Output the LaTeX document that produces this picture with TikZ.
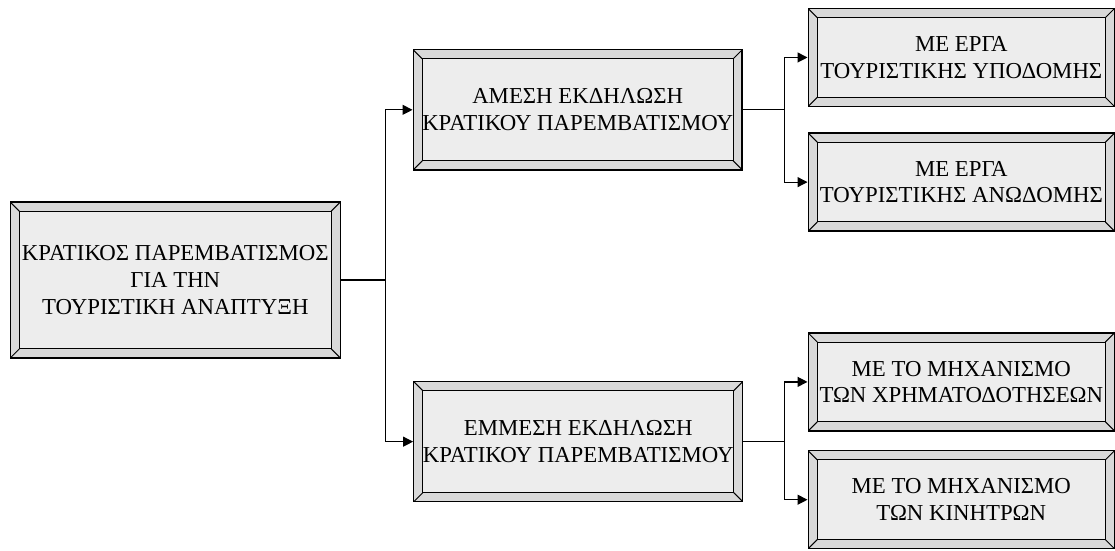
\documentclass[tikz,border=0pt]{standalone}
\usepackage{fontspec}
\setmainfont{Liberation Serif}
\usetikzlibrary{arrows.meta, positioning, calc}

\begin{document}
\begin{tikzpicture}[
    font=\fontsize{11.4pt}{13.3pt}\selectfont,
    frame/.style={draw, line width=0.7pt, fill=black!15, align=center, inner sep=0pt,
      path picture={
        \draw[line width=0.5pt, fill=black!7]
          ([shift={(0.16,0.16)}]path picture bounding box.south west) rectangle
          ([shift={(-0.16,-0.16)}]path picture bounding box.north east);
        \foreach \c/\dx/\dy in {south west/1/1, south east/-1/1, north west/1/-1, north east/-1/-1}
          \draw[line width=0.5pt] (path picture bounding box.\c) -- ++(0.16*\dx,0.16*\dy);
      }},
    root/.style={frame, minimum width=5.80cm, minimum height=2.74cm},
    mid/.style={frame, minimum width=5.78cm, minimum height=2.11cm},
    leaf/.style={frame, minimum width=5.38cm, minimum height=1.72cm},
    arr/.style={-{Triangle[length=5pt, width=5pt]}, line width=0.6pt},
    line/.style={line width=0.6pt}]
    \useasboundingbox (0,0) rectangle (19.59,9.68);
    \node[root] (st)  at (3.08,4.76)  {ΚΡΑΤΙΚΟΣ ΠΑΡΕΜΒΑΤΙΣΜΟΣ\\ΓΙΑ ΤΗΝ\\ΤΟΥΡΙΣΤΙΚΗ ΑΝΑΠΤΥΞΗ};
    \node[mid]  (ame) at (10.15,7.75) {ΑΜΕΣΗ ΕΚΔΗΛΩΣΗ\\ΚΡΑΤΙΚΟΥ ΠΑΡΕΜΒΑΤΙΣΜΟΥ};
    \node[mid]  (emm) at (10.16,1.92) {ΕΜΜΕΣΗ ΕΚΔΗΛΩΣΗ\\ΚΡΑΤΙΚΟΥ ΠΑΡΕΜΒΑΤΙΣΜΟΥ};
    \node[leaf] (ypo) at (16.89,8.67) {ΜΕ ΕΡΓΑ\\ΤΟΥΡΙΣΤΙΚΗΣ ΥΠΟΔΟΜΗΣ};
    \node[leaf] (ano) at (16.89,6.48) {ΜΕ ΕΡΓΑ\\ΤΟΥΡΙΣΤΙΚΗΣ ΑΝΩΔΟΜΗΣ};
    \node[leaf] (xrh) at (16.89,2.97) {ΜΕ ΤΟ ΜΗΧΑΝΙΣΜΟ\\ΤΩΝ ΧΡΗΜΑΤΟΔΟΤΗΣΕΩΝ};
    \node[leaf] (kin) at (16.89,0.90) {ΜΕ ΤΟ ΜΗΧΑΝΙΣΜΟ\\ΤΩΝ ΚΙΝΗΤΡΩΝ};
    \coordinate (f1) at (6.77,4.76);
    \coordinate (f2) at (13.79,7.75);
    \coordinate (f3) at (13.79,1.92);
    \draw[line] (st.east) -- (f1);
    \draw[arr] (f1) |- (ame.west);
    \draw[arr] (f1) |- (emm.west);
    \draw[line] (ame.east) -- (f2);
    \draw[arr] (f2) |- (ypo.west);
    \draw[arr] (f2) |- (ano.west);
    \draw[line] (emm.east) -- (f3);
    \draw[arr] (f3) |- (xrh.west);
    \draw[arr] (f3) |- (kin.west);
\end{tikzpicture}
\end{document}
